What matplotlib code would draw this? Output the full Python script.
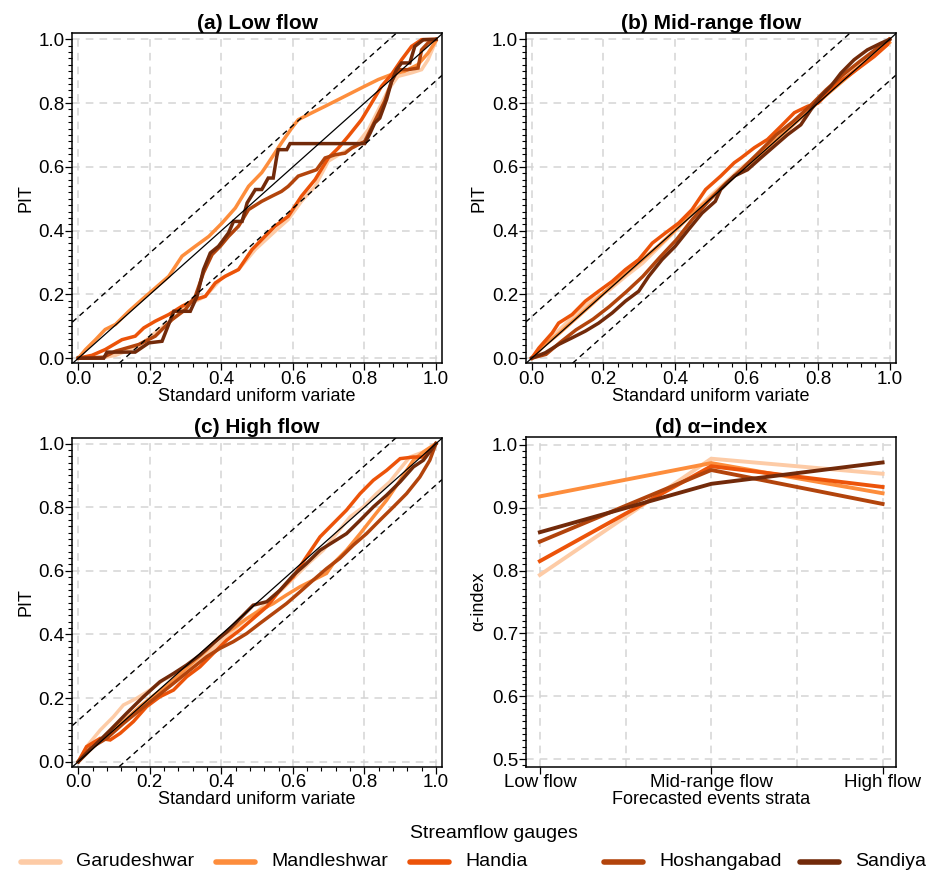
import numpy as np
import matplotlib
matplotlib.use("Agg")
import matplotlib.pyplot as plt
from matplotlib.lines import Line2D
from matplotlib.ticker import MultipleLocator, FixedLocator, FormatStrFormatter

plt.rcParams["font.family"] = ["Liberation Sans", "DejaVu Sans"]

gauges = ["Garudeshwar", "Mandleshwar", "Handia", "Hoshangabad", "Sandiya"]
colors = ["#fdcba6", "#fd8d3c", "#ec5309", "#b2440c", "#722a0a"]

# (a) Low flow: (uniform variate, PIT)
low_garudeshwar = [(0, 0), (0.06, 0.0), (0.104, 0.009), (0.169, 0.038), (0.215, 0.08), (0.262, 0.121),
                   (0.309, 0.168), (0.355, 0.194), (0.402, 0.252), (0.448, 0.278), (0.495, 0.341),
                   (0.55, 0.398), (0.587, 0.435), (0.624, 0.492), (0.662, 0.539), (0.699, 0.618),
                   (0.736, 0.643), (0.774, 0.664), (0.811, 0.717), (0.839, 0.779), (0.867, 0.842),
                   (0.894, 0.884), (0.932, 0.895), (0.96, 0.905), (0.978, 0.936), (1.0, 0.995)]
low_mandleshwar = [(0, 0), (0.02, 0.027), (0.048, 0.058), (0.075, 0.09), (0.104, 0.106), (0.141, 0.147),
                   (0.178, 0.184), (0.215, 0.22), (0.253, 0.257), (0.29, 0.32), (0.327, 0.351),
                   (0.365, 0.382), (0.402, 0.424), (0.439, 0.471), (0.476, 0.539), (0.513, 0.582),
                   (0.531, 0.612), (0.568, 0.675), (0.597, 0.722), (0.615, 0.748), (0.652, 0.769),
                   (0.69, 0.79), (0.727, 0.811), (0.764, 0.832), (0.801, 0.853), (0.839, 0.874),
                   (0.876, 0.89), (0.913, 0.9), (0.95, 0.921), (0.978, 0.957), (1.0, 0.995)]
low_handia = [(0, 0), (0.038, 0.009), (0.075, 0.027), (0.122, 0.058), (0.159, 0.069), (0.183, 0.095),
              (0.215, 0.116), (0.253, 0.137), (0.29, 0.163), (0.327, 0.184), (0.355, 0.194),
              (0.383, 0.236), (0.411, 0.257), (0.448, 0.278), (0.486, 0.341), (0.513, 0.372),
              (0.55, 0.414), (0.587, 0.445), (0.624, 0.508), (0.662, 0.56), (0.699, 0.628),
              (0.727, 0.659), (0.755, 0.696), (0.792, 0.748), (0.82, 0.8), (0.848, 0.853),
              (0.876, 0.89), (0.904, 0.936), (0.932, 0.978), (0.96, 0.999), (1.0, 1.0)]
low_hoshangabad = [(0, 0), (0.07, 0.003), (0.104, 0.022), (0.169, 0.043), (0.215, 0.069), (0.262, 0.121),
                   (0.299, 0.152), (0.327, 0.194), (0.35, 0.268), (0.374, 0.325), (0.397, 0.351),
                   (0.42, 0.382), (0.448, 0.414), (0.476, 0.466), (0.513, 0.492), (0.541, 0.508),
                   (0.568, 0.523), (0.587, 0.539), (0.615, 0.571), (0.666, 0.591), (0.69, 0.628),
                   (0.718, 0.638), (0.746, 0.643), (0.764, 0.659), (0.801, 0.68), (0.829, 0.743),
                   (0.857, 0.806), (0.876, 0.868), (0.894, 0.905), (0.923, 0.905), (0.95, 0.91),
                   (0.96, 0.967), (0.978, 0.989), (1.0, 1.0)]
low_sandiya = [(0, 0), (0.071, 0.0), (0.08, 0.019), (0.159, 0.019), (0.197, 0.048), (0.234, 0.053),
               (0.267, 0.147), (0.313, 0.147), (0.332, 0.194), (0.35, 0.278), (0.369, 0.33),
               (0.392, 0.351), (0.406, 0.372), (0.42, 0.393), (0.434, 0.429), (0.458, 0.429),
               (0.472, 0.487), (0.495, 0.529), (0.513, 0.529), (0.531, 0.565), (0.545, 0.565),
               (0.555, 0.633), (0.559, 0.654), (0.583, 0.654), (0.592, 0.673), (0.801, 0.673),
               (0.816, 0.706), (0.829, 0.738), (0.843, 0.753), (0.862, 0.811), (0.876, 0.868),
               (0.89, 0.905), (0.904, 0.926), (0.927, 0.926), (0.941, 0.978), (0.965, 0.999),
               (1.0, 1.0)]

# (b) Mid-range flow
mid_garudeshwar = [(0, 0), (0.04, 0.045), (0.077, 0.089), (0.124, 0.14), (0.171, 0.183), (0.217, 0.214),
                   (0.264, 0.258), (0.31, 0.298), (0.357, 0.35), (0.404, 0.402), (0.45, 0.455),
                   (0.497, 0.507), (0.543, 0.553), (0.59, 0.601), (0.637, 0.64), (0.683, 0.684),
                   (0.73, 0.735), (0.776, 0.784), (0.823, 0.833), (0.87, 0.883), (0.916, 0.92),
                   (0.963, 0.961), (1.0, 1.0)]
mid_mandleshwar = [(0, 0), (0.03, 0.035), (0.077, 0.078), (0.124, 0.125), (0.171, 0.172), (0.217, 0.22),
                   (0.264, 0.266), (0.31, 0.31), (0.357, 0.355), (0.404, 0.405), (0.45, 0.455),
                   (0.497, 0.5), (0.543, 0.549), (0.59, 0.593), (0.637, 0.637), (0.683, 0.684),
                   (0.73, 0.731), (0.776, 0.778), (0.823, 0.825), (0.87, 0.87), (0.916, 0.914),
                   (0.96, 0.955), (1.0, 0.99)]
mid_handia = [(0, 0), (0.02, 0.032), (0.057, 0.079), (0.075, 0.11), (0.113, 0.137), (0.15, 0.179),
              (0.187, 0.21), (0.225, 0.241), (0.262, 0.278), (0.299, 0.309), (0.337, 0.361),
              (0.374, 0.393), (0.411, 0.424), (0.448, 0.466), (0.486, 0.529), (0.528, 0.571),
              (0.566, 0.613), (0.585, 0.628), (0.622, 0.66), (0.659, 0.686), (0.697, 0.728),
              (0.734, 0.77), (0.771, 0.79), (0.8, 0.8), (0.827, 0.832), (0.855, 0.863),
              (0.883, 0.884), (0.92, 0.915), (0.957, 0.946), (0.994, 0.983), (1.0, 1.0)]
mid_hoshangabad = [(0, 0), (0.04, 0.012), (0.08, 0.05), (0.124, 0.089), (0.171, 0.122), (0.217, 0.162),
                   (0.264, 0.208), (0.31, 0.256), (0.357, 0.315), (0.404, 0.371), (0.45, 0.437),
                   (0.497, 0.496), (0.543, 0.548), (0.59, 0.596), (0.637, 0.648), (0.683, 0.7),
                   (0.73, 0.742), (0.776, 0.789), (0.823, 0.842), (0.87, 0.889), (0.916, 0.93),
                   (0.963, 0.97), (1.0, 1.0)]
mid_sandiya = [(0, 0), (0.038, 0.017), (0.075, 0.043), (0.113, 0.064), (0.15, 0.085), (0.187, 0.11),
               (0.225, 0.142), (0.262, 0.179), (0.299, 0.21), (0.327, 0.257), (0.364, 0.309),
               (0.401, 0.351), (0.438, 0.403), (0.476, 0.455), (0.513, 0.492), (0.528, 0.529),
               (0.566, 0.571), (0.603, 0.591), (0.64, 0.628), (0.678, 0.665), (0.715, 0.701),
               (0.752, 0.732), (0.78, 0.779), (0.808, 0.821), (0.836, 0.853), (0.864, 0.894),
               (0.901, 0.936), (0.938, 0.967), (0.976, 0.988), (1.0, 1.0)]

# (c) High flow
high_garudeshwar = [(0, 0), (0.023, 0.047), (0.061, 0.099), (0.098, 0.141), (0.126, 0.178), (0.163, 0.199),
                    (0.2, 0.225), (0.238, 0.257), (0.275, 0.277), (0.312, 0.298), (0.349, 0.33),
                    (0.387, 0.366), (0.424, 0.403), (0.461, 0.44), (0.499, 0.471), (0.536, 0.508),
                    (0.573, 0.545), (0.61, 0.586), (0.648, 0.628), (0.685, 0.665), (0.722, 0.717),
                    (0.76, 0.77), (0.797, 0.801), (0.834, 0.843), (0.871, 0.88), (0.9, 0.921),
                    (0.927, 0.958), (0.965, 0.974), (1.0, 1.0)]
high_mandleshwar = [(0, 0), (0.033, 0.037), (0.079, 0.084), (0.126, 0.126), (0.172, 0.173), (0.219, 0.215),
                    (0.266, 0.257), (0.312, 0.304), (0.359, 0.351), (0.396, 0.393), (0.433, 0.419),
                    (0.471, 0.45), (0.508, 0.476), (0.545, 0.497), (0.582, 0.524), (0.62, 0.55),
                    (0.657, 0.571), (0.694, 0.592), (0.713, 0.623), (0.75, 0.665), (0.788, 0.717),
                    (0.825, 0.77), (0.862, 0.822), (0.9, 0.885), (0.937, 0.948), (0.965, 0.974),
                    (1.0, 1.0)]
high_handia = [(0, 0), (0.023, 0.047), (0.061, 0.073), (0.089, 0.068), (0.117, 0.089), (0.154, 0.126),
               (0.191, 0.173), (0.228, 0.204), (0.266, 0.225), (0.303, 0.267), (0.34, 0.298),
               (0.377, 0.34), (0.415, 0.382), (0.452, 0.414), (0.489, 0.45), (0.527, 0.487),
               (0.564, 0.539), (0.601, 0.581), (0.638, 0.644), (0.676, 0.707), (0.713, 0.749),
               (0.75, 0.791), (0.788, 0.843), (0.825, 0.885), (0.862, 0.916), (0.9, 0.953),
               (0.937, 0.958), (0.965, 0.958), (1.0, 1.0)]
high_hoshangabad = [(0, 0), (0.033, 0.042), (0.079, 0.073), (0.126, 0.12), (0.172, 0.162), (0.219, 0.204),
                    (0.266, 0.246), (0.312, 0.288), (0.359, 0.33), (0.396, 0.356), (0.433, 0.377),
                    (0.471, 0.403), (0.508, 0.435), (0.545, 0.466), (0.582, 0.497), (0.62, 0.534),
                    (0.657, 0.571), (0.694, 0.607), (0.731, 0.639), (0.769, 0.681), (0.806, 0.717),
                    (0.843, 0.759), (0.881, 0.801), (0.918, 0.843), (0.955, 0.895), (0.983, 0.948),
                    (1.0, 1.0)]
high_sandiya = [(0, 0), (0.042, 0.047), (0.089, 0.099), (0.135, 0.152), (0.182, 0.204), (0.228, 0.251),
                (0.266, 0.277), (0.303, 0.304), (0.34, 0.335), (0.377, 0.372), (0.415, 0.408),
                (0.452, 0.45), (0.489, 0.492), (0.527, 0.503), (0.564, 0.539), (0.601, 0.586),
                (0.638, 0.623), (0.676, 0.665), (0.713, 0.691), (0.75, 0.717), (0.788, 0.759),
                (0.825, 0.801), (0.862, 0.838), (0.9, 0.88), (0.937, 0.927), (0.965, 0.948),
                (1.0, 1.0)]

# (d) alpha-index per stratum
strata = ["Low flow", "Mid-range flow", "High flow"]
alpha_garudeshwar = [0.793, 0.978, 0.954]
alpha_mandleshwar = [0.918, 0.971, 0.923]
alpha_handia = [0.815, 0.966, 0.933]
alpha_hoshangabad = [0.846, 0.960, 0.906]
alpha_sandiya = [0.861, 0.938, 0.972]

band = 0.13

pit_panels = [
    ("(a) Low flow", [low_garudeshwar, low_mandleshwar, low_handia, low_hoshangabad, low_sandiya]),
    ("(b) Mid-range flow", [mid_garudeshwar, mid_mandleshwar, mid_handia, mid_hoshangabad, mid_sandiya]),
    ("(c) High flow", [high_garudeshwar, high_mandleshwar, high_handia, high_hoshangabad, high_sandiya]),
]
alphas = [alpha_garudeshwar, alpha_mandleshwar, alpha_handia, alpha_hoshangabad, alpha_sandiya]

fig = plt.figure(figsize=(9.34, 8.76), dpi=100)
rects = [
    [0.0774, 0.5853, 0.3958, 0.3767],
    [0.5628, 0.5853, 0.3961, 0.3767],
    [0.0774, 0.1248, 0.3958, 0.3756],
    [0.5628, 0.1248, 0.3961, 0.3767],
]
grid_kw = dict(color="#d4d4d4", linestyle=(0, (5, 4)), linewidth=1.1)


def style_axis(ax):
    for sp in ax.spines.values():
        sp.set_linewidth(1.1)
        sp.set_color("black")
    ax.tick_params(which="major", direction="out", length=5, width=0.9, labelsize=13.5, pad=0.5)
    ax.tick_params(which="minor", direction="out", length=3, width=0.8)


for i, (title, curves) in enumerate(pit_panels):
    ax = fig.add_axes(rects[i])
    ax.set_axisbelow(True)
    ax.grid(True, which="major", **grid_kw)
    for name, col, pts in zip(gauges, colors, curves):
        arr = np.array(pts)
        ax.plot(arr[:, 0], arr[:, 1], color=col, lw=2.5, solid_joinstyle="miter", zorder=2)
    ax.axline((0, 0), slope=1, color="black", lw=0.9, zorder=3)
    ax.axline((0, band), slope=1, color="black", lw=1.0, ls=(0, (4, 3)), zorder=3)
    ax.axline((0, -band), slope=1, color="black", lw=1.0, ls=(0, (4, 3)), zorder=3)
    ax.set_xlim(-0.017, 1.017)
    ax.set_ylim(-0.016, 1.019)
    ax.xaxis.set_major_locator(MultipleLocator(0.2))
    ax.yaxis.set_major_locator(MultipleLocator(0.2))
    ax.xaxis.set_minor_locator(MultipleLocator(0.04))
    ax.yaxis.set_minor_locator(MultipleLocator(0.02))
    ax.xaxis.set_major_formatter(FormatStrFormatter("%.1f"))
    ax.yaxis.set_major_formatter(FormatStrFormatter("%.1f"))
    style_axis(ax)
    ax.set_title(title, fontsize=15, fontweight="bold", pad=3)
    ax.set_xlabel("Standard uniform variate", fontsize=13, labelpad=0)
    ax.set_ylabel("PIT", fontsize=13, labelpad=3)

ax = fig.add_axes(rects[3])
ax.set_axisbelow(True)
xs = np.arange(1, len(strata) + 1)
for name, col, vals in zip(gauges, colors, alphas):
    ax.plot(xs, vals, color=col, lw=2.8, zorder=2)
ax.set_xlim(0.917, 3.076)
ax.set_ylim(0.488, 1.013)
ax.set_xticks(xs)
ax.set_xticklabels(strata)
ax.xaxis.set_minor_locator(FixedLocator([1.5, 2.5]))
ax.yaxis.set_major_locator(MultipleLocator(0.1))
ax.yaxis.set_minor_locator(MultipleLocator(0.01))
ax.yaxis.set_major_formatter(FormatStrFormatter("%.1f"))
ax.grid(True, axis="x", which="both", **grid_kw)
ax.grid(True, axis="y", which="major", **grid_kw)
style_axis(ax)
ax.tick_params(axis="x", which="minor", length=0)
ax.set_title("(d) \u03b1\u2212index", fontsize=15, fontweight="bold", pad=3)
ax.set_xlabel("Forecasted events strata", fontsize=13, labelpad=0)
ax.set_ylabel("\u03b1-index", fontsize=13, labelpad=3)

# legend at the bottom
fig.text(494 / 934, 1 - 833 / 876, "Streamflow gauges", ha="center", va="center", fontsize=14)
leg_y = 1 - 862 / 876
leg_x = [21, 216, 410, 604, 800]
for name, col, x0 in zip(gauges, colors, leg_x):
    fig.add_artist(Line2D([x0 / 934, (x0 + 39) / 934], [leg_y, leg_y], color=col, lw=4,
                          solid_capstyle="round"))
    fig.text((x0 + 55) / 934, leg_y, name, ha="left", va="center", fontsize=14)

fig.savefig("out.png", dpi=100)
